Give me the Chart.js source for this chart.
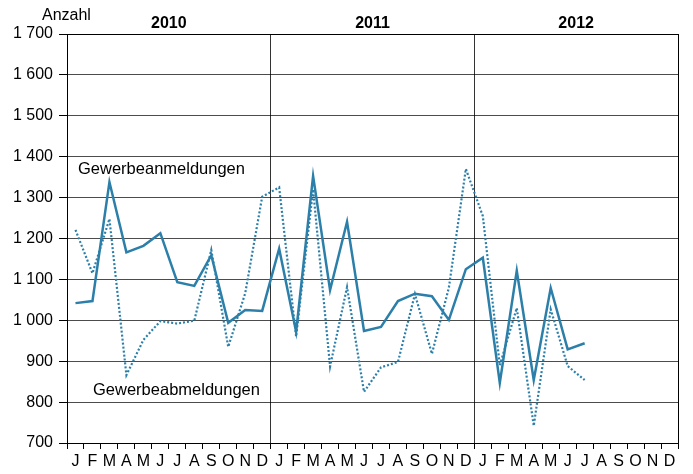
<!DOCTYPE html>
<html>
<head>
<meta charset="utf-8">
<script src="https://cdn.jsdelivr.net/npm/chart.js@4/dist/chart.umd.min.js"></script>
<style>
  html, body { margin: 0; padding: 0; background: #fff; }
  #wrap { width: 693px; height: 474px; position: relative; }
</style>
</head>
<body>
<div id="wrap"><canvas id="c" width="693" height="474"></canvas></div>
<script>
const months = ['J','F','M','A','M','J','J','A','S','O','N','D',
                'J','F','M','A','M','J','J','A','S','O','N','D',
                'J','F','M','A','M','J','J','A','S','O','N','D'];
const years = ['2010', '2011', '2012'];
const anmeldungen = [
  1042, 1047, 1338, 1166, 1182, 1213, 1093, 1084, 1159, 994, 1025, 1023,
  1175, 972, 1353, 1074, 1241, 974, 984, 1047, 1065, 1059, 1001, 1125,
  1153, 847, 1121, 854, 1079, 929, 944, null, null, null, null, null
];
const abmeldungen = [
  1221, 1115, 1248, 866, 952, 998, 992, 999, 1172, 935, 1066, 1302,
  1325, 960, 1320, 887, 1081, 825, 885, 898, 1064, 918, 1080, 1370,
  1255, 890, 1030, 742, 1027, 888, 854, null, null, null, null, null
];
const yMin = 700, yMax = 1700, yStep = 100;
const yTickLabels = ['700','800','900','1 000','1 100','1 200','1 300','1 400','1 500','1 600','1 700'];
const seriesNames = ['Gewerbeanmeldungen', 'Gewerbeabmeldungen'];
const unitLabel = 'Anzahl';

const FONT = "'Liberation Sans', Arial, sans-serif";
const LINE = '#2b7fa9';

const extras = {
  id: 'extras',
  afterDatasetsDraw(chart) {
    const { ctx, chartArea: a } = chart;
    ctx.save();
    ctx.strokeStyle = '#000';
    ctx.lineWidth = 1;
    ctx.beginPath();
    ctx.moveTo(Math.round(a.right) + 0.5, a.top);
    ctx.lineTo(Math.round(a.right) + 0.5, a.bottom);
    ctx.stroke();
    ctx.fillStyle = '#000';
    ctx.textAlign = 'left';
    ctx.textBaseline = 'alphabetic';
    ctx.font = '16px ' + FONT;
    ctx.fillText(unitLabel, 42, 19.5);
    ctx.font = '16.5px ' + FONT;
    ctx.fillText(seriesNames[0], 78, 174);
    ctx.fillText(seriesNames[1], 93, 394.5);
    ctx.restore();
  }
};

new Chart(document.getElementById('c'), {
  type: 'line',
  data: {
    labels: months,
    datasets: [
      {
        label: seriesNames[0],
        data: anmeldungen,
        borderColor: LINE,
        borderWidth: 2.5,
        pointRadius: 0,
        tension: 0,
        spanGaps: false
      },
      {
        label: seriesNames[1],
        data: abmeldungen,
        borderColor: LINE,
        borderWidth: 2.2,
        borderDash: [2, 2],
        pointRadius: 0,
        tension: 0,
        spanGaps: false
      }
    ]
  },
  options: {
    responsive: false,
    animation: false,
    devicePixelRatio: 1,
    layout: { padding: { left: 0, right: 15, top: 0, bottom: 0 } },
    plugins: { legend: { display: false }, tooltip: { enabled: false } },
    scales: {
      x: {
        type: 'category',
        position: 'bottom',
        offset: true,
        grid: {
          offset: true,
          drawOnChartArea: true,
          drawTicks: true,
          tickLength: 6,
          tickColor: '#000',
          color: (c) => (c.index === 12 || c.index === 24) ? '#333' : 'rgba(0,0,0,0)',
          lineWidth: 1
        },
        border: { display: true, color: '#000', width: 1 },
        ticks: {
          color: '#000',
          font: { family: FONT, size: 16 },
          padding: 3,
          maxRotation: 0,
          autoSkip: false
        },
        afterFit: (s) => { s.height = 31; }
      },
      x2: {
        type: 'category',
        position: 'top',
        labels: years,
        offset: true,
        grid: { display: false, drawTicks: false },
        border: { display: true, color: '#000', width: 1 },
        ticks: {
          color: '#000',
          font: { family: FONT, size: 16, weight: 'bold' },
          padding: 1,
          maxRotation: 0
        },
        afterFit: (s) => { s.height = 34; }
      },
      y: {
        min: yMin,
        max: yMax,
        ticks: {
          stepSize: yStep,
          color: '#000',
          font: { family: FONT, size: 16 },
          padding: 6,
          callback: (v) => yTickLabels[Math.round((v - yMin) / yStep)]
        },
        grid: {
          color: 'rgba(0,0,0,0.7)',
          borderDash: [1, 1],
          tickBorderDash: [],
          tickColor: '#000',
          tickLength: 8,
          lineWidth: 1
        },
        border: { display: true, color: '#000', width: 1 },
        afterFit: (s) => { s.width = 67; }
      }
    }
  },
  plugins: [extras]
});
</script>
</body>
</html>
